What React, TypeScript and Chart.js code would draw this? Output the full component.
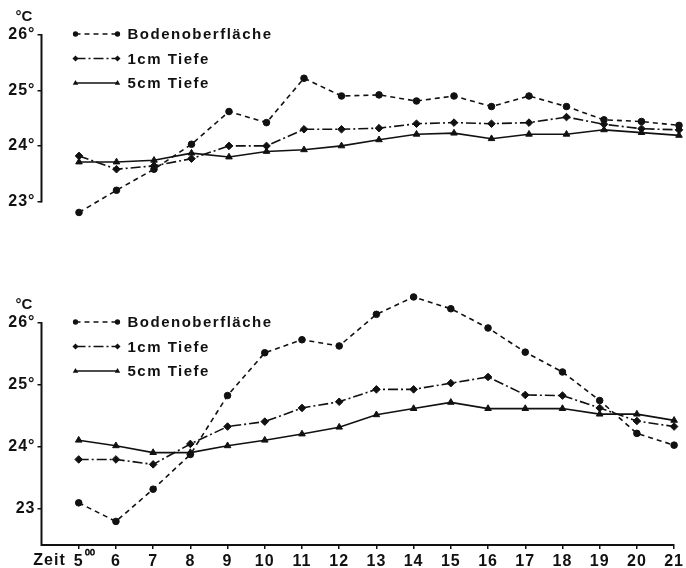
import { useEffect, useRef } from 'react';
import { Chart, registerables } from 'chart.js';

Chart.register(...registerables);

const hours = [5, 6, 7, 8, 9, 10, 11, 12, 13, 14, 15, 16, 17, 18, 19, 20, 21];
const xTickLabels = ['5', '6', '7', '8', '9', '10', '11', '12', '13', '14', '15', '16', '17', '18', '19', '20', '21'];
const firstTickSuffix = '⁰⁰';
const seriesLabels = ['Bodenoberfläche', '1cm Tiefe', '5cm Tiefe'];
const yTickValues = [23, 24, 25, 26];
const topYTickLabels = ['23°', '24°', '25°', '26°'];
const bottomYTickLabels = ['23', '24°', '25°', '26°'];
const unitLabel = '°C';
const timeLabel = 'Zeit';

// Upper panel
const topBoden = [22.8, 23.2, 23.58, 24.03, 24.62, 24.42, 25.22, 24.9, 24.92, 24.81, 24.9, 24.71, 24.9, 24.71, 24.47, 24.44, 24.37];
const top1cm = [23.82, 23.58, 23.64, 23.77, 24.0, 24.0, 24.3, 24.3, 24.32, 24.4, 24.42, 24.4, 24.42, 24.52, 24.39, 24.31, 24.29];
const top5cm = [23.71, 23.71, 23.74, 23.87, 23.8, 23.9, 23.93, 24.0, 24.11, 24.21, 24.23, 24.13, 24.21, 24.21, 24.29, 24.24, 24.19];

// Lower panel
const botBoden = [23.1, 22.8, 23.32, 23.88, 24.83, 25.52, 25.73, 25.63, 26.14, 26.42, 26.23, 25.92, 25.53, 25.21, 24.75, 24.22, 24.03];
const bot1cm = [23.8, 23.8, 23.72, 24.05, 24.33, 24.41, 24.63, 24.73, 24.93, 24.93, 25.03, 25.13, 24.84, 24.83, 24.63, 24.42, 24.33];
const bot5cm = [24.11, 24.02, 23.91, 23.91, 24.02, 24.11, 24.21, 24.32, 24.52, 24.62, 24.72, 24.62, 24.62, 24.62, 24.53, 24.53, 24.43];

const FONT = '"Liberation Sans", Arial, sans-serif';
const INK = '#111';

const styles = [
  { dash: [5, 4], point: 'circle', radius: 3.3 },
  { dash: [10, 3, 2, 3], point: 'rectRot', radius: 3.8 },
  { dash: [], point: 'triangle', radius: 3.8 },
];

function makeDatasets(series: number[][]) {
  return series.map((vals, i) => ({
    label: seriesLabels[i],
    data: hours.map((h, j) => ({ x: h, y: vals[j] })),
    borderColor: INK,
    backgroundColor: INK,
    borderWidth: 1.6,
    borderDash: styles[i].dash,
    pointStyle: styles[i].point,
    pointRadius: styles[i].radius,
    pointBackgroundColor: INK,
    pointBorderColor: INK,
    pointBorderWidth: 1,
    tension: 0,
    clip: false,
  }));
}

function marker(ctx: CanvasRenderingContext2D, style: string, r: number, x: number, y: number) {
  ctx.beginPath();
  if (style === 'circle') {
    ctx.arc(x, y, r, 0, Math.PI * 2);
  } else if (style === 'rectRot') {
    ctx.moveTo(x, y - r);
    ctx.lineTo(x + r, y);
    ctx.lineTo(x, y + r);
    ctx.lineTo(x - r, y);
    ctx.closePath();
  } else {
    ctx.moveTo(x, y - r);
    ctx.lineTo(x + r * 0.9, y + r * 0.6);
    ctx.lineTo(x - r * 0.9, y + r * 0.6);
    ctx.closePath();
  }
  ctx.fill();
}

const decoPlugin = {
  id: 'deco',
  beforeDraw(chart: any) {
    chart.ctx.letterSpacing = '1px';
  },
  afterDraw(chart: any, _args: any, opts: any) {
    const ctx = chart.ctx;
    const area = chart.chartArea;
    const ys = chart.scales.y;
    const p26 = ys.getPixelForValue(26);
    ctx.save();
    ctx.fillStyle = INK;
    ctx.strokeStyle = INK;
    // vertical axis line from axisFrom up to 26
    ctx.letterSpacing = '0px';
    ctx.lineWidth = 2;
    ctx.beginPath();
    ctx.moveTo(area.left, ys.getPixelForValue(opts.axisFrom) + 1);
    ctx.lineTo(area.left, p26 - 1);
    ctx.stroke();
    // legend
    const x0 = area.left + 34;
    const x1 = x0 + 42;
    chart.data.datasets.forEach((ds: any, i: number) => {
      const y = p26 - 1 + i * 24.5;
      ctx.save();
      ctx.lineWidth = 1.5;
      ctx.setLineDash(ds.borderDash || []);
      ctx.beginPath();
      ctx.moveTo(x0, y);
      ctx.lineTo(x1, y);
      ctx.stroke();
      ctx.restore();
      marker(ctx, ds.pointStyle, ds.pointRadius * 0.8, x0, y);
      marker(ctx, ds.pointStyle, ds.pointRadius * 0.8, x1, y);
      ctx.font = `bold 15px ${FONT}`;
      ctx.letterSpacing = '1.5px';
      ctx.textAlign = 'left';
      ctx.textBaseline = 'middle';
      ctx.fillText(ds.label, x1 + 10, y + 1);
    });
    ctx.letterSpacing = '0px';
    ctx.font = `bold 15px ${FONT}`;
    ctx.textAlign = 'center';
    ctx.textBaseline = 'middle';
    ctx.fillText(unitLabel, 24, p26 - 18);
    if (opts.showTime) {
      const xs = chart.scales.x;
      const px5 = xs.getPixelForValue(hours[0]);
      ctx.font = `bold 16px ${FONT}`;
      ctx.letterSpacing = '1px';
      ctx.textAlign = 'right';
      ctx.textBaseline = 'middle';
      ctx.fillText(timeLabel, px5 - 13, area.bottom + 16);
      ctx.letterSpacing = '0px';
      ctx.font = `bold 14px ${FONT}`;
      ctx.textAlign = 'left';
      ctx.fillText(firstTickSuffix, px5 + 6, area.bottom + 12);
    }
    ctx.restore();
    ctx.letterSpacing = '0px';
  },
};

function buildConfig(series: number[][], yMin: number, yMax: number, axisFrom: number, yLabels: string[], padTop: number, padBottom: number, showX: boolean): any {
  return {
    type: 'line',
    data: { datasets: makeDatasets(series) },
    plugins: [decoPlugin],
    options: {
      animation: false,
      responsive: false,
      events: [],
      layout: { padding: { left: 0, right: 7, top: padTop, bottom: padBottom } },
      plugins: {
        legend: { display: false },
        tooltip: { enabled: false },
        deco: { showTime: showX, axisFrom },
      },
      scales: {
        x: {
          type: 'linear',
          min: 4,
          max: 21,
          display: showX,
          afterBuildTicks: (s: any) => {
            s.ticks = hours.map((v) => ({ value: v }));
          },
          afterFit: (s: any) => {
            s.height = 23;
          },
          ticks: {
            autoSkip: false,
            maxRotation: 0,
            color: INK,
            padding: 3,
            font: { family: FONT, size: 16, weight: 'bold' },
            callback: (v: number) => xTickLabels[hours.indexOf(v)],
          },
          grid: { drawOnChartArea: false, drawTicks: true, tickLength: 4, color: INK, lineWidth: 1.5 },
          border: { color: INK, width: 2 },
        },
        y: {
          min: yMin,
          max: yMax,
          afterBuildTicks: (s: any) => {
            s.ticks = yTickValues.map((v) => ({ value: v }));
          },
          afterFit: (s: any) => {
            s.width = 41.5;
          },
          ticks: {
            color: INK,
            padding: 2,
            font: { family: FONT, size: 16, weight: 'bold' },
            callback: (v: number) => yLabels[yTickValues.indexOf(v)],
          },
          grid: { drawOnChartArea: false, drawTicks: true, tickLength: 4, color: INK, lineWidth: 1.5 },
          border: { display: false },
        },
      },
    },
  };
}

export default function App() {
  const topRef = useRef<HTMLCanvasElement>(null);
  const botRef = useRef<HTMLCanvasElement>(null);

  useEffect(() => {
    const c1 = new Chart(topRef.current as HTMLCanvasElement, buildConfig([topBoden, top1cm, top5cm], 22.7, 26, 23, topYTickLabels, 35, 24, false));
    const c2 = new Chart(botRef.current as HTMLCanvasElement, buildConfig([botBoden, bot1cm, bot5cm], 22.42, 26.5, 22.42, bottomYTickLabels, 27, 0, true));
    return () => {
      c1.destroy();
      c2.destroy();
    };
  }, []);

  return (
    <div style={{ position: 'fixed', left: 0, top: 0, width: 686, height: 568, background: '#fff' }}>
      <canvas ref={topRef} width={686} height={265} style={{ position: 'absolute', left: 0, top: 0, width: 686, height: 265 }} />
      <canvas ref={botRef} width={686} height={303} style={{ position: 'absolute', left: 0, top: 265, width: 686, height: 303 }} />
    </div>
  );
}
